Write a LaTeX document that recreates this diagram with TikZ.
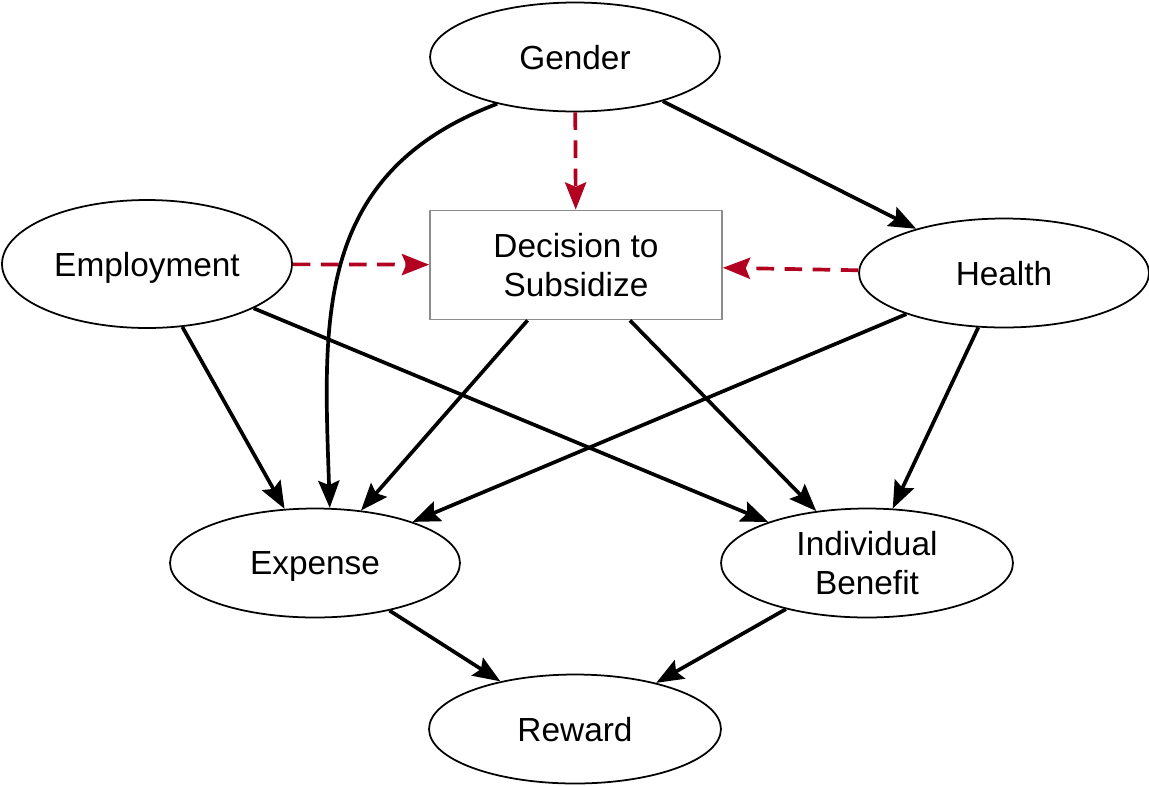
\documentclass[tikz,border=0pt]{standalone}
\usepackage{fontspec}
\setmainfont{Liberation Sans}
\usetikzlibrary{shapes.geometric, arrows.meta}
\definecolor{dunkelrot}{RGB}{178,0,32}
\definecolor{rahmengrau}{RGB}{140,140,140}

\begin{document}
\begin{tikzpicture}
		[
		x=0.02cm, y=-0.02cm, font=\fontsize{19}{22}\selectfont,
		>={Stealth[length=15.5pt, width=12pt, inset=2.5pt]},
		%Voreinstellungen für Knoten und Pfeile
		knoten/.style={ellipse, draw, line width=1pt, inner sep=0pt, minimum width=5.8cm, minimum height=2.18cm, align=center, text depth=0pt},
		kasten/.style={rectangle, draw=rahmengrau, line width=1pt, minimum width=5.84cm, minimum height=2.18cm, align=center},
		pfeil/.style={->, line width=2.1pt},
		einfluss/.style={->, line width=2.1pt, dunkelrot, dash pattern=on 10pt off 6pt}
		]
		
		%Rahmen
		\useasboundingbox (0,0) rectangle (1149,785);
		
		%Knoten oben
		\node[knoten] (gender) at (575,57) {Gender};
		\node[kasten] (decision) at (576,265) {Decision to\\Subsidize};
		\node[knoten, minimum height=2.56cm] (employment) at (147,264) {Employment};
		\node[knoten] (health) at (1004,273) {Health};
		
		%Knoten unten
		\node[knoten] (expense) at (315,563) {Expense};
		\node[knoten, minimum width=5.84cm] (benefit) at (867,563) {Individual\\Benefit};
		\node[knoten, minimum width=5.84cm] (reward) at (575,729) {Reward};
		
		%Einfluss auf Entscheidung
		\draw[einfluss] (gender) -- (decision);
		\draw[einfluss] (employment) -- (decision);
		\draw[einfluss] (health) -- (decision);
		
		%Pfeile von Gender
		\draw[pfeil] (gender) -- (health);
		\draw[pfeil] (gender.211) .. controls +(-185,70) and +(-6,-185) .. (expense.75);
		
		%Pfeile in Expense und Individual Benefit
		\draw[pfeil] (employment) -- (expense);
		\draw[pfeil] (employment) -- (benefit);
		\draw[pfeil] (decision) -- (expense);
		\draw[pfeil] (decision) -- (benefit);
		\draw[pfeil] (health) -- (expense);
		\draw[pfeil] (health) -- (benefit);
		
		%Pfeile zu Reward
		\draw[pfeil] (expense) -- (reward);
		\draw[pfeil] (benefit) -- (reward);
	\end{tikzpicture}
\end{document}
